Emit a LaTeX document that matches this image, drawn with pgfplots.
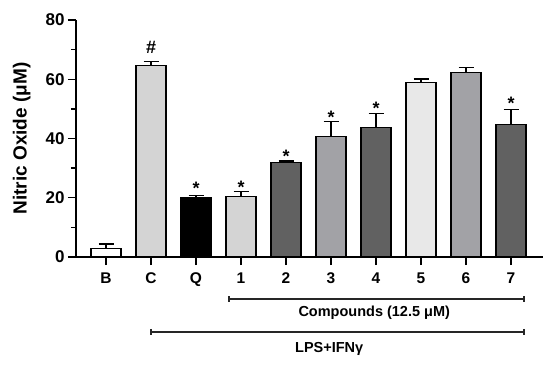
\documentclass[border=0pt]{standalone}
\usepackage{fontspec}
\setmainfont{Liberation Sans}
\usepackage{pgfplots}
\pgfplotsset{compat=1.18}
\definecolor{lg}{HTML}{D4D4D4}
\definecolor{vlg}{HTML}{E8E8E8}
\definecolor{mg}{HTML}{A2A2A6}
\definecolor{dg}{HTML}{616161}
\begin{document}
\begin{tikzpicture}
\path[use as bounding box] (-76pt,-111pt) rectangle (474pt,257pt);
\begin{axis}[
  scale only axis, width=467pt, height=237pt,
  at={(0,0)}, anchor=south west,
  xmin=-0.667, xmax=9.71, ymin=0, ymax=80,
  axis lines=left, axis line style={line width=1.4pt, -},
  ybar, bar width=30pt,
  xtick={0,...,9}, xticklabels={B,C,Q,1,2,3,4,5,6,7},
  ytick={0,20,40,60,80}, minor ytick={10,30,50,70},
  tick align=outside, major tick length=8pt, minor tick length=5pt,
  tick style={line width=1.3pt, black},
  /pgf/number format/assume math mode=true,
  yticklabel style={font=\bfseries\fontsize{17}{17}\selectfont},
  xticklabel style={font=\bfseries\fontsize{15.5}{15.5}\selectfont, yshift=-4pt},
  ylabel={\bfseries Nitric Oxide (μM)},
  ylabel style={font=\bfseries\fontsize{19}{19}\selectfont},
  ylabel shift=8pt,
  clip=false,
  every axis plot/.append style={bar shift=0pt, draw=black, line width=1.2pt,
    error bars/y dir=plus, error bars/y explicit,
    error bars/error bar style={line width=1.3pt, black},
    error bars/error mark options={rotate=90, mark size=7.5pt, line width=1.3pt, black}},
]
\addplot[fill=white] coordinates {(0,2.8) +- (0,1.6)};
\addplot[fill=lg] coordinates {(1,64.6) +- (0,1.4)};
\addplot[fill=black] coordinates {(2,20.0) +- (0,0.8)};
\addplot[fill=lg] coordinates {(3,20.5) +- (0,1.5)};
\addplot[fill=dg] coordinates {(4,31.9) +- (0,0.5)};
\addplot[fill=mg] coordinates {(5,40.8) +- (0,4.9)};
\addplot[fill=dg] coordinates {(6,43.8) +- (0,4.6)};
\addplot[fill=vlg] coordinates {(7,58.8) +- (0,1.3)};
\addplot[fill=mg] coordinates {(8,62.2) +- (0,1.7)};
\addplot[fill=dg] coordinates {(9,44.8) +- (0,5.0)};
\begin{scope}[every node/.style={font=\bfseries\fontsize{18}{18}\selectfont}]
\node at (axis cs:1,70.6) {\#};
\node at (axis cs:2,23.3) {*};
\node at (axis cs:3,23.6) {*};
\node at (axis cs:4,34.0) {*};
\node at (axis cs:5,47.0) {*};
\node at (axis cs:6,50.3) {*};
\node at (axis cs:9,51.8) {*};
\end{scope}
\draw[line width=1.3pt, black!85] (axis cs:2.73,-14.2) -- (axis cs:9.29,-14.2)
  (axis cs:2.73,-13.2) -- (axis cs:2.73,-15.2)
  (axis cs:9.29,-13.2) -- (axis cs:9.29,-15.2);
\draw[line width=1.3pt, black!85] (axis cs:1,-25.3) -- (axis cs:9.29,-25.3)
  (axis cs:1,-24.3) -- (axis cs:1,-26.3)
  (axis cs:9.29,-24.3) -- (axis cs:9.29,-26.3);
\node[font=\bfseries\fontsize{14.5}{14.5}\selectfont] at (axis cs:5.96,-18.8) {Compounds (12.5 μM)};
\node[font=\bfseries\fontsize{14.5}{14.5}\selectfont] at (axis cs:4.96,-30.9) {LPS+IFNγ};
\end{axis}
\end{tikzpicture}
\end{document}
